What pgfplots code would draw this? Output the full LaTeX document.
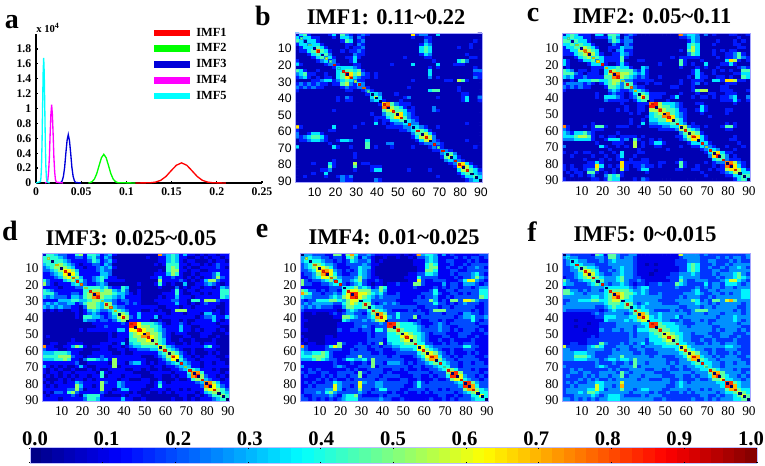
\documentclass[border=0pt]{standalone}
\usepackage{fontspec}
\setmainfont{Liberation Serif}
\newfontfamily\arial{Liberation Sans}
\usepackage{pgfplots}
\usepackage{pgfplotstable}
\pgfplotsset{compat=1.18}
\definecolor{imfcyan}{rgb}{0,1,1}
\definecolor{imfmag}{rgb}{1,0,1}
\definecolor{imfgreen}{rgb}{0,1,0}
\definecolor{imfred}{rgb}{1,0,0}
\definecolor{imfblue}{rgb}{0,0,0.85}

% connectivity matrices, 45x45 blocks (each block = 2 regions), digit d = value (d+0.5)/10
\pgfplotstableread[header=false]{
2 3 4 1 0  0 0 0 1 3  0 4 2 1 0  1 2 1 0 0  0 0 0 0 0  0 0 0 6 1  2 2 0 0 3  0 0 0 0 0  0 0 0 0 0
3 1 3 3 1  1 0 0 0 1  0 3 3 2 0  2 1 0 0 0  0 0 0 0 0  0 0 0 1 0  0 1 1 0 0  0 0 0 0 0  0 0 0 0 0
4 3 2 3 3  1 0 0 0 0  0 1 4 3 0  1 2 0 0 0  0 0 0 0 0  0 0 0 0 0  0 2 1 0 0  0 0 0 0 0  0 0 0 1 0
1 3 3 2 3  3 1 0 0 0  0 0 1 1 0  2 1 0 0 0  0 0 0 0 0  0 0 0 0 0  1 3 2 0 0  0 0 0 0 0  0 0 1 0 0
0 1 3 3 3  4 3 1 0 0  0 0 1 0 1  1 2 0 0 0  0 0 0 0 0  0 0 0 0 0  3 4 3 0 0  0 0 0 0 1  0 0 1 0 0
0 1 1 3 4  7 4 3 1 0  0 1 0 1 1  2 1 0 0 0  0 0 0 0 0  0 0 0 0 0  3 4 3 0 0  0 0 0 0 0  0 0 0 0 0
0 0 0 1 3  4 3 4 2 0  0 0 0 0 2  1 1 0 0 0  0 0 0 0 0  0 0 0 0 0  1 3 2 0 0  0 0 0 0 0  0 1 0 0 0
0 0 0 0 1  3 4 2 3 1  0 0 1 1 3  1 0 0 0 0  0 0 0 0 0  0 1 0 0 0  0 1 1 0 0  0 0 0 0 0  0 0 1 1 0
1 0 0 0 0  1 2 3 1 2  0 0 0 1 3  0 0 0 0 0  0 0 0 0 0  0 0 0 0 0  0 0 0 1 0  0 0 0 0 3  4 2 0 0 0
3 1 0 0 0  0 0 1 2 2  1 0 0 0 1  1 0 0 0 0  0 0 0 1 0  0 0 0 3 0  0 0 0 0 3  0 0 0 1 1  1 0 0 0 0
0 0 0 0 0  0 0 0 0 1  3 3 3 3 2  1 0 0 0 0  0 0 0 0 0  0 0 0 0 0  0 0 1 0 1  0 0 0 0 0  0 0 0 1 0
4 3 1 0 0  1 0 0 0 0  3 3 4 4 3  4 1 0 0 0  0 0 0 0 0  0 0 0 0 0  0 0 3 0 0  0 0 0 0 0  0 0 0 2 2
2 3 4 1 1  0 0 1 0 0  3 4 8 6 4  5 2 1 0 1  0 0 0 0 0  0 0 0 0 0  0 0 3 0 0  0 0 0 0 0  0 0 0 1 1
1 2 3 1 0  1 0 1 1 0  3 4 6 7 3  2 1 1 0 1  0 0 0 0 0  0 0 0 0 0  0 0 2 0 1  0 0 0 0 0  0 0 0 2 1
0 0 0 0 1  1 2 3 3 1  2 3 4 3 2  1 1 0 0 0  0 0 0 0 0  0 0 0 1 0  0 0 0 0 0  0 1 1 0 5  4 1 0 0 0
1 2 1 2 1  2 1 1 0 1  1 4 5 2 1  3 2 0 0 0  0 0 0 0 0  0 0 0 0 0  0 0 0 0 0  0 0 0 0 0  0 0 0 0 0
2 1 2 1 2  1 1 0 0 0  0 1 2 1 1  2 2 1 0 0  0 0 0 0 0  0 0 1 0 0  0 0 0 0 0  0 0 0 0 1  0 0 0 0 0
1 0 0 0 0  0 0 0 0 0  0 0 1 1 0  0 1 2 1 0  0 0 0 0 0  0 0 0 0 0  0 0 3 4 4  0 0 0 0 1  0 0 0 0 0
0 0 0 0 0  0 0 0 0 0  0 0 0 0 0  0 0 1 3 3  2 0 0 0 1  0 0 0 0 0  0 0 0 0 0  0 0 0 0 0  1 1 0 0 0
0 0 0 0 0  0 0 0 0 0  1 0 2 1 0  0 0 0 3 5  3 0 0 0 0  0 1 2 0 0  0 0 0 0 1  0 0 0 0 0  1 3 0 0 2
0 0 0 0 0  0 0 0 0 0  1 0 1 1 0  0 0 0 2 3  3 1 0 0 0  1 0 0 0 0  0 0 0 0 0  0 0 0 0 0  1 3 0 0 1
0 0 0 0 0  0 0 0 0 0  0 0 0 0 0  0 0 0 0 0  1 6 7 4 2  1 1 1 0 0  0 0 0 0 0  0 0 0 0 0  0 0 0 0 0
0 0 0 0 0  0 0 0 0 0  0 0 0 0 0  0 0 0 0 0  0 7 8 5 4  3 1 0 1 0  0 0 0 2 0  0 0 0 0 0  0 0 0 0 0
0 0 0 0 0  0 0 0 0 1  0 0 0 0 0  0 0 0 0 0  0 4 5 6 4  4 3 1 1 0  0 0 0 2 1  0 0 0 0 0  0 0 0 0 0
0 0 0 0 0  0 0 0 0 0  0 0 0 0 0  0 0 0 1 0  0 2 4 4 5  6 3 2 1 0  0 0 0 0 0  0 0 0 0 0  0 0 0 0 0
0 0 0 0 0  0 0 0 0 0  0 0 0 0 0  0 0 0 0 1  1 1 3 4 6  6 4 2 1 1  0 0 0 0 0  0 0 0 0 0  0 0 0 0 0
0 0 0 0 0  0 0 0 0 0  0 0 0 0 0  0 0 0 0 1  0 1 1 3 3  4 4 3 2 1  0 0 0 0 0  0 0 0 0 0  0 0 0 0 0
0 0 0 0 0  0 0 0 0 0  0 0 0 0 0  0 1 0 0 3  0 1 0 1 2  2 3 3 2 2  0 0 0 0 0  0 0 0 0 0  0 1 0 0 0
6 1 0 0 0  0 0 0 0 3  0 0 0 0 1  0 0 0 0 0  0 0 1 1 1  1 2 2 3 3  2 1 0 0 1  0 0 0 0 0  0 0 0 0 0
1 0 0 0 0  0 0 0 1 1  0 0 0 0 0  0 0 0 0 0  0 0 0 0 0  1 1 2 3 4  4 3 1 0 0  0 0 0 0 0  0 0 0 0 0
2 0 0 1 3  3 1 0 0 0  0 0 0 0 0  0 0 0 0 0  0 0 0 0 0  0 0 0 2 4  4 5 3 1 0  0 0 0 0 0  0 0 0 0 0
2 1 2 3 4  4 3 1 0 0  0 0 0 0 0  0 0 0 0 0  0 0 0 0 0  0 0 0 1 3  5 6 5 2 0  0 0 0 0 0  0 0 0 0 0
0 1 1 2 3  3 2 1 0 0  1 3 3 2 0  0 0 3 0 0  0 0 0 0 0  0 0 0 0 1  3 5 6 2 1  0 0 0 0 0  0 1 0 0 0
0 0 0 0 0  0 0 0 1 0  0 0 0 0 0  0 0 4 0 0  0 0 2 2 0  0 0 0 0 0  1 2 2 2 2  1 0 0 0 0  0 0 0 0 0
3 0 0 0 0  0 0 0 0 3  1 0 0 1 0  0 0 4 0 1  0 0 0 1 0  0 0 0 1 0  0 0 1 2 1  1 0 0 0 0  0 0 0 1 0
0 0 0 0 0  0 0 0 0 0  0 0 0 0 0  0 0 0 0 0  0 0 0 0 0  0 0 0 0 0  0 0 0 1 1  2 2 1 0 0  0 0 0 0 0
0 0 0 0 0  0 0 0 0 0  0 0 0 0 1  0 0 0 0 0  0 0 0 0 0  0 0 0 0 0  0 0 0 0 0  2 3 4 2 0  0 0 0 0 0
0 0 0 0 0  0 0 0 0 0  0 0 0 0 1  0 0 0 0 0  0 0 0 0 0  0 0 0 0 0  0 0 0 0 0  1 4 5 3 1  0 0 0 0 0
0 0 0 0 0  0 0 0 0 1  0 0 0 0 0  0 0 0 0 0  0 0 0 0 0  0 0 0 0 0  0 0 0 0 0  0 2 3 2 2  1 0 0 0 0
0 0 0 0 1  0 0 0 3 1  0 0 0 0 5  0 1 1 0 0  0 0 0 0 0  0 0 0 0 0  0 0 0 0 0  0 0 1 2 5  6 3 1 0 0
0 0 0 0 0  0 0 0 4 1  0 0 0 0 4  0 0 0 1 1  1 0 0 0 0  0 0 0 0 0  0 0 0 0 0  0 0 0 1 6  7 5 3 1 0
0 0 0 0 0  0 1 1 2 0  0 0 0 0 1  0 0 0 1 3  3 0 0 0 0  0 0 1 0 0  0 0 1 0 0  0 0 0 0 3  5 5 4 3 1
0 0 0 0 1  0 0 3 0 0  0 0 0 0 0  0 0 0 0 0  0 0 0 0 0  0 0 0 0 0  0 0 0 0 0  0 0 0 0 1  3 4 4 3 2
0 0 1 0 0  0 0 1 0 0  1 2 1 2 0  0 0 0 0 0  0 0 0 0 0  0 0 0 0 0  0 0 0 0 1  0 0 0 0 0  1 3 3 4 3
0 0 0 0 0  0 0 0 0 0  0 2 1 1 0  0 0 0 0 2  1 0 0 0 0  0 0 0 0 0  0 0 0 0 0  0 0 0 0 0  0 1 2 3 3
}\matb

\pgfplotstableread[header=false]{
3 3 4 3 1  1 1 0 3 3  0 4 4 3 0  1 2 1 0 0  0 0 0 0 0  0 0 0 7 2  3 3 2 0 2  0 1 0 0 0  1 1 0 0 1
3 3 4 3 3  1 1 0 1 1  1 3 4 2 0  2 1 0 0 0  0 0 0 0 0  0 0 0 1 1  2 3 2 0 0  0 0 0 0 0  0 0 1 0 0
4 4 3 4 3  3 1 0 0 0  0 2 4 3 1  2 2 0 0 0  0 0 0 0 0  0 0 0 0 0  1 3 2 0 0  0 0 1 0 0  0 1 0 1 0
3 3 4 3 4  3 3 1 0 0  0 0 2 1 0  2 1 0 0 0  0 0 0 0 0  0 0 0 0 0  3 4 3 0 0  0 1 0 0 0  0 1 1 0 0
1 3 3 4 4  5 4 3 1 0  0 1 1 1 3  2 2 0 0 0  0 0 0 0 0  0 0 0 0 0  3 5 3 0 0  0 0 0 0 0  0 0 1 1 0
1 1 3 3 5  7 5 4 3 0  0 1 0 2 3  1 1 0 0 0  0 0 0 0 0  0 0 0 1 0  4 5 3 0 0  0 1 0 1 0  1 1 0 0 0
1 1 1 3 4  5 7 5 3 1  0 0 1 1 3  2 1 0 0 0  0 0 0 0 0  0 0 0 0 0  2 4 3 0 0  0 1 0 0 1  1 2 4 1 0
0 0 0 1 3  4 5 3 4 3  1 1 1 1 4  1 0 0 0 0  0 0 0 0 0  0 1 0 1 1  1 1 1 0 0  0 0 1 0 1  1 2 4 2 1
3 1 0 0 1  3 3 4 2 3  1 1 1 1 4  0 0 0 1 1  0 0 0 0 0  0 0 0 4 1  0 0 0 1 0  0 0 0 0 3  6 5 1 0 1
3 1 0 0 0  0 1 3 3 3  1 0 0 1 3  1 0 0 0 0  0 0 0 1 0  0 0 0 4 1  0 1 0 0 3  0 0 0 1 1  3 1 0 0 0
0 1 0 0 0  0 0 1 1 1  3 3 3 4 3  3 1 0 0 3  2 0 0 0 0  0 0 0 1 0  0 0 1 0 1  0 0 1 0 0  0 0 1 2 1
4 3 2 0 1  1 0 1 1 0  3 4 5 4 4  4 4 2 1 3  1 0 0 0 0  0 0 0 0 0  0 1 3 0 0  0 1 0 1 0  1 0 0 4 4
4 4 4 2 1  0 1 1 1 0  3 5 7 7 5  5 4 3 2 3  1 0 0 0 0  0 0 0 0 0  0 1 3 1 0  0 1 0 0 0  0 1 1 3 3
3 2 3 1 1  2 1 1 1 1  4 4 7 8 5  4 3 2 1 2  1 0 0 1 0  0 0 0 0 0  1 0 3 1 1  0 0 1 1 0  1 0 0 4 3
0 0 1 0 3  3 3 4 4 3  3 4 5 5 3  2 2 1 1 1  1 1 0 0 0  0 0 0 1 0  0 1 1 1 0  0 3 3 1 6  6 5 1 1 0
1 2 2 2 2  1 2 1 0 1  3 4 5 4 2  4 4 1 0 0  1 0 1 1 0  0 0 0 1 0  0 1 2 0 1  0 0 0 0 1  1 1 0 0 0
2 1 2 1 2  1 1 0 0 0  1 4 4 3 2  4 4 2 1 1  0 0 0 0 0  0 1 1 0 0  0 1 0 0 0  0 0 0 1 1  0 0 0 0 0
1 0 0 0 0  0 0 0 0 0  0 2 3 2 1  1 2 3 3 2  1 0 0 0 0  0 0 0 0 0  0 1 4 5 5  0 0 0 1 1  1 0 0 0 1
0 0 0 0 0  0 0 0 1 0  0 1 2 1 1  0 1 3 4 4  3 1 1 1 1  0 0 0 1 0  0 0 1 0 0  1 1 0 0 1  1 1 0 0 0
0 0 0 0 0  0 0 0 1 0  3 3 3 2 1  0 1 2 4 6  4 1 1 1 0  0 1 3 0 0  0 1 0 1 1  0 1 0 1 1  2 3 0 0 2
0 0 0 0 0  0 0 0 0 0  2 1 1 1 1  1 0 1 3 4  4 1 0 0 0  1 0 0 0 0  0 0 0 0 0  0 0 0 1 1  1 3 1 0 1
0 0 0 0 0  0 0 0 0 0  0 0 0 0 1  0 0 0 1 1  1 7 8 5 3  3 3 2 1 0  0 0 1 1 0  0 0 0 0 0  0 1 0 0 0
0 0 0 0 0  0 0 0 0 0  0 0 0 0 0  1 0 0 1 1  0 8 8 5 4  4 3 2 1 0  0 0 0 3 1  0 0 0 0 0  0 0 0 0 0
0 0 0 0 0  0 0 0 0 1  0 0 0 1 0  1 0 0 1 1  0 5 5 7 5  4 4 3 1 1  0 0 1 3 1  0 0 0 0 1  1 0 0 0 0
0 0 0 0 0  0 0 0 0 0  0 0 0 0 0  0 1 0 1 0  0 3 4 5 6  7 4 3 2 1  0 0 0 1 0  0 0 0 0 1  0 0 0 0 0
0 0 0 0 0  0 0 0 0 0  0 0 0 0 0  0 0 0 0 0  1 3 4 4 7  7 6 3 2 1  0 0 0 0 0  1 0 0 0 0  0 0 0 0 0
0 0 0 0 0  0 0 0 0 0  0 0 0 0 0  0 1 0 0 1  0 3 3 4 4  6 6 4 3 1  0 0 0 0 0  0 0 0 0 0  0 0 0 0 0
0 0 0 0 0  0 0 1 0 0  0 0 0 0 0  0 1 0 0 3  0 2 2 3 3  3 4 4 3 2  0 1 0 0 0  0 0 0 0 1  0 1 0 0 0
7 1 0 0 0  1 0 1 4 4  1 0 0 1 1  1 0 0 1 0  0 1 1 1 2  2 3 3 6 5  2 1 1 0 1  0 0 0 1 4  4 1 0 0 0
2 1 0 0 0  0 0 1 1 1  0 0 0 0 0  0 0 0 0 0  0 0 0 1 1  1 1 2 5 5  4 3 2 0 0  0 0 0 0 1  1 0 0 0 0
3 2 1 3 3  4 2 1 0 0  0 0 0 1 0  0 0 0 0 0  0 0 0 0 0  0 0 0 2 4  5 5 4 1 0  0 0 0 0 0  0 0 0 0 0
3 3 3 4 5  5 4 1 0 1  0 1 1 0 1  1 1 1 0 1  0 0 0 0 0  0 0 1 1 3  5 7 6 3 1  0 0 0 0 0  0 1 0 0 0
2 2 2 3 3  3 3 1 0 0  1 3 3 3 1  2 0 4 1 0  0 1 0 1 0  0 0 0 1 2  4 6 6 3 1  0 0 0 0 0  1 1 0 0 0
0 0 0 0 0  0 0 0 1 0  0 0 1 1 1  0 0 5 0 1  0 1 3 3 1  0 0 0 0 0  1 3 3 3 3  1 0 0 0 0  0 0 1 0 0
2 0 0 0 0  0 0 0 0 3  1 0 0 1 0  1 0 5 0 1  0 0 1 1 0  0 0 0 1 0  0 1 1 3 2  2 1 0 0 1  0 0 0 1 0
0 0 0 0 0  0 0 0 0 0  0 1 0 0 0  0 0 0 1 0  0 0 0 0 0  1 0 0 0 0  0 0 0 1 2  3 3 2 0 0  0 1 0 0 0
1 0 0 1 0  1 1 0 0 1  0 0 1 0 3  0 0 0 1 1  0 0 0 0 0  0 0 0 0 0  0 0 0 0 1  3 5 6 3 1  1 0 0 0 0
0 0 1 0 0  0 0 1 0 0  1 0 0 1 3  0 0 1 0 0  0 0 0 0 0  0 0 0 0 0  0 0 0 0 0  2 6 8 4 2  0 1 0 0 0
0 0 0 0 0  1 0 0 0 1  0 1 0 1 1  0 1 0 0 1  1 0 0 0 0  0 0 0 1 0  0 0 0 0 0  0 3 4 4 2  1 1 1 0 0
0 0 0 0 0  0 1 1 3 1  0 0 0 0 6  1 1 1 1 1  1 0 0 1 1  0 0 1 4 1  0 0 0 0 1  0 1 2 2 7  7 5 2 1 0
1 0 1 0 0  1 1 1 6 3  0 1 0 1 6  1 0 1 1 2  1 1 0 1 0  0 0 0 4 1  0 0 1 0 0  0 1 0 1 7  8 6 3 1 0
1 0 1 1 0  1 2 2 5 1  0 0 1 0 5  1 0 0 1 3  3 0 0 0 0  0 0 1 1 0  0 1 1 0 0  1 0 1 1 5  6 6 5 3 1
0 1 0 1 1  0 4 4 1 0  1 0 1 0 1  0 0 0 0 0  1 0 0 0 0  0 0 0 0 0  0 0 0 1 0  0 0 0 1 2  3 5 5 3 3
0 0 1 0 1  0 1 2 0 0  2 4 3 4 1  0 0 0 0 0  0 0 0 0 0  0 0 0 0 0  0 0 0 0 1  0 0 0 0 1  1 3 3 4 4
1 0 0 0 0  0 0 1 1 0  1 4 3 3 0  0 0 1 0 2  1 0 0 0 0  0 0 0 0 0  0 0 0 0 0  0 0 0 0 0  0 1 3 4 3
}\matc

\pgfplotstableread[header=false]{
3 4 4 3 2  2 1 1 4 5  1 4 4 3 1  2 3 1 0 0  0 0 0 0 0  0 0 0 7 2  3 4 3 1 3  1 1 0 1 0  1 1 0 1 1
4 4 4 4 3  2 1 1 2 2  1 3 4 2 1  3 2 0 0 0  0 0 0 0 0  1 0 0 1 1  3 4 3 1 1  0 0 1 0 1  0 1 1 0 1
4 4 4 4 4  3 2 1 1 1  1 2 4 3 1  2 3 1 0 0  0 0 0 0 0  0 0 0 1 1  3 4 3 1 0  1 1 0 0 0  1 0 1 1 0
3 4 4 4 5  4 3 2 1 0  1 1 2 2 1  3 2 0 0 0  0 0 0 0 0  0 0 1 0 1  4 4 4 1 1  0 1 1 0 1  0 1 2 1 1
2 3 4 5 5  5 4 3 1 1  0 1 1 2 3  2 3 1 0 0  0 0 0 0 0  0 0 0 0 0  4 5 4 1 0  1 0 0 1 1  1 1 2 1 0
2 2 3 4 5  6 6 5 3 1  1 1 1 2 3  2 2 0 0 0  0 0 0 0 0  0 0 0 1 0  4 5 5 1 1  0 1 1 0 0  1 1 1 1 1
1 1 2 3 4  6 7 6 4 1  1 1 1 1 3  3 2 0 0 0  0 0 0 0 0  0 0 1 1 1  3 5 4 1 0  0 1 0 1 1  1 2 4 1 1
1 1 1 2 3  5 6 4 5 3  1 1 2 3 4  3 1 1 0 0  0 0 0 0 0  0 1 1 3 1  1 2 1 1 0  1 0 1 0 1  1 2 5 2 1
4 2 1 1 1  3 4 5 3 4  2 1 2 3 4  1 1 1 1 1  0 0 0 0 0  0 0 0 5 1  1 1 1 2 1  0 1 0 1 3  5 5 2 1 1
5 2 1 0 1  1 1 3 4 3  2 1 1 2 3  2 0 0 0 0  0 0 0 1 0  0 0 1 4 1  0 1 0 0 3  0 0 1 1 2  3 2 1 0 1
1 1 1 1 0  1 1 1 2 2  4 4 4 4 3  4 2 1 1 4  3 0 0 0 0  0 0 0 1 0  0 0 2 0 1  0 1 1 0 1  1 0 1 3 2
4 3 2 1 1  1 1 1 1 1  4 4 5 5 4  5 5 3 2 4  2 0 0 1 0  0 0 0 0 0  0 1 4 1 0  1 1 0 1 1  1 1 1 4 4
4 4 4 2 1  1 1 2 2 1  4 5 7 7 5  5 5 4 3 3  2 1 0 1 0  0 0 0 0 1  1 1 4 1 0  0 1 1 0 1  0 1 1 4 4
3 2 3 2 2  2 1 3 3 2  4 5 7 8 5  4 4 3 2 3  1 1 1 1 0  0 0 0 1 0  1 1 3 1 1  1 0 1 1 1  1 1 1 4 3
1 1 1 1 3  3 3 4 4 3  3 4 5 5 4  3 3 2 1 2  2 1 1 1 0  0 0 1 1 1  1 2 2 1 1  0 4 4 1 5  5 5 2 1 1
2 3 2 3 2  2 3 3 1 2  4 5 5 4 3  5 5 2 1 1  2 1 2 1 0  0 0 0 1 1  1 1 3 1 1  0 1 0 1 2  1 1 1 0 1
3 2 3 2 3  2 2 1 1 0  2 5 5 4 3  5 5 3 2 2  1 1 1 1 1  1 1 1 0 0  1 1 1 0 1  1 0 1 1 1  1 1 0 0 1
1 0 1 0 1  0 0 1 1 0  1 3 4 3 2  2 3 4 4 3  2 1 1 1 0  0 1 0 1 0  0 1 5 5 5  1 1 1 1 1  1 0 1 0 1
0 0 0 0 0  0 0 0 1 0  1 2 3 2 1  1 2 4 5 5  4 1 1 3 1  1 1 1 1 1  0 1 1 1 0  1 1 1 0 3  3 1 1 0 1
0 0 0 0 0  0 0 0 1 0  4 4 3 3 2  1 2 3 5 6  5 2 1 3 1  1 1 3 0 1  1 1 1 1 1  1 1 0 1 2  2 3 1 1 3
0 0 0 0 0  0 0 0 0 0  3 2 2 1 2  2 1 2 4 5  5 1 1 1 1  1 0 0 1 0  0 1 1 0 1  0 0 1 1 1  1 3 1 0 1
0 0 0 0 0  0 0 0 0 0  0 0 1 1 1  1 1 1 1 2  1 8 8 6 4  4 4 3 2 1  0 1 1 2 1  0 1 1 1 1  1 1 0 1 1
0 0 0 0 0  0 0 0 0 0  0 0 0 1 1  2 1 1 1 1  1 8 8 6 5  5 4 4 3 1  1 1 1 3 1  1 0 0 1 1  1 1 1 0 0
0 0 0 0 0  0 0 0 0 1  0 1 1 1 1  1 1 1 3 3  1 6 6 8 6  5 5 4 3 2  1 1 1 3 1  1 0 1 0 1  1 1 0 1 0
0 0 0 0 0  0 0 0 0 0  0 0 0 0 0  0 1 0 1 1  1 4 5 6 6  7 5 5 4 2  1 0 1 1 1  0 0 0 1 1  1 0 0 0 1
0 1 0 0 0  0 0 0 0 0  0 0 0 0 0  0 1 0 1 1  1 4 5 5 7  7 6 5 4 2  1 0 0 0 1  1 0 0 1 1  0 0 1 0 0
0 0 0 0 0  0 0 1 0 0  0 0 0 0 0  0 1 1 1 1  0 4 4 5 5  6 6 5 4 3  1 0 0 1 0  0 1 0 0 0  0 1 0 0 0
0 0 1 1 0  0 1 1 1 1  0 0 0 0 1  1 1 0 1 3  0 3 4 4 5  5 5 5 4 3  1 1 0 0 1  0 1 1 0 1  1 1 0 0 0
7 1 1 0 0  1 1 3 5 4  1 0 1 1 1  1 0 1 1 0  1 2 3 3 4  4 4 4 6 5  3 2 1 1 1  1 1 1 1 3  4 1 1 0 0
2 1 1 1 0  0 1 1 1 1  0 0 0 0 1  1 0 0 1 1  0 1 1 2 2  2 3 3 5 5  4 3 2 1 0  0 1 0 0 1  1 1 0 0 0
3 3 3 4 4  4 3 1 1 0  0 0 1 1 1  1 1 0 0 1  0 0 1 1 1  1 1 1 3 4  5 5 4 2 1  0 1 0 0 0  1 0 1 0 0
4 4 4 4 5  5 5 2 1 1  0 1 1 1 2  1 1 1 1 1  1 1 1 1 0  0 0 1 2 3  5 7 6 3 1  1 0 1 0 1  1 1 0 0 1
3 3 3 4 4  5 4 1 1 0  2 4 4 3 2  3 1 5 1 1  1 1 1 1 1  0 0 0 1 2  4 6 6 4 2  1 1 0 1 1  1 1 1 0 0
1 1 1 1 1  1 1 1 2 0  0 1 1 1 1  1 0 5 1 1  0 2 3 3 1  0 1 0 1 1  2 3 4 3 3  2 1 1 0 1  1 0 1 1 0
3 1 0 1 0  1 0 0 1 3  1 0 0 1 1  1 1 5 0 1  1 1 1 1 1  1 0 1 1 0  1 1 2 3 3  3 1 1 0 1  1 1 1 1 1
1 0 1 0 1  0 0 1 0 0  0 1 0 1 0  0 1 1 1 1  0 0 1 1 0  1 0 0 1 0  0 1 1 2 3  4 4 3 1 1  1 0 1 0 0
1 0 1 1 0  1 1 0 1 1  1 1 1 0 4  1 0 1 1 1  1 1 0 0 0  0 1 1 1 1  1 0 1 1 1  4 7 7 4 1  1 1 1 0 1
0 1 0 1 0  1 0 1 0 1  1 0 1 1 4  0 1 1 1 0  1 1 1 1 0  0 0 1 1 0  0 1 0 1 1  3 7 8 5 2  1 1 0 1 0
1 0 0 0 1  0 1 0 1 1  0 1 0 1 1  1 1 1 0 1  1 0 0 0 1  1 0 0 1 0  0 0 1 0 0  1 4 5 5 3  2 1 1 0 1
0 1 0 1 1  0 1 1 3 2  1 1 1 1 5  2 1 1 3 2  1 1 1 1 1  1 0 1 3 1  0 1 1 1 1  1 1 2 3 7  7 5 3 1 1
1 0 1 0 1  1 1 1 5 3  1 1 0 1 5  1 1 1 3 2  1 1 1 1 1  0 0 1 4 1  1 1 1 1 1  1 1 1 2 7  8 6 4 2 1
1 1 1 1 1  1 2 2 5 2  0 1 1 1 5  1 1 0 1 3  3 1 1 1 0  0 1 1 1 1  0 1 1 0 1  0 1 1 1 5  6 6 5 4 2
0 1 0 2 2  1 4 5 2 1  1 1 1 1 2  1 0 1 1 1  1 0 1 0 0  1 0 0 1 0  1 0 1 1 1  1 1 0 1 3  4 5 5 4 3
1 0 1 1 1  1 1 2 1 0  3 4 4 4 1  0 0 0 0 1  0 1 1 1 0  0 0 0 0 0  0 0 0 1 1  0 0 1 0 1  2 4 4 5 4
1 1 1 1 0  1 1 1 1 1  2 4 4 3 1  1 1 1 1 3  1 1 0 0 1  0 0 0 0 0  0 1 0 0 1  0 1 0 1 1  1 2 3 4 4
}\matd

\pgfplotstableread[header=false]{
2 3 3 2 2  2 1 1 5 5  1 5 7 4 2  2 3 2 1 1  1 1 1 1 0  1 0 1 7 3  4 4 3 1 3  1 2 1 1 1  1 1 1 2 2
3 3 4 3 3  2 2 1 2 2  1 4 5 3 1  3 2 1 0 0  1 0 0 1 0  0 1 0 2 2  3 4 3 1 1  1 1 2 1 2  1 2 2 1 2
3 4 4 4 4  3 2 2 1 2  1 2 4 3 2  2 3 1 0 1  0 0 0 0 0  0 0 1 1 1  3 4 3 1 1  2 2 1 1 1  2 1 2 1 1
2 3 4 5 5  4 3 3 2 1  1 2 2 2 2  3 2 1 1 0  0 0 0 0 0  0 0 1 1 1  4 5 4 1 1  1 2 1 1 2  1 2 2 2 2
2 3 4 5 6  6 5 4 2 1  1 1 2 2 4  3 3 1 0 0  0 0 0 0 0  0 0 0 1 1  4 5 5 1 1  2 1 1 2 1  2 2 3 2 1
2 2 3 4 6  7 7 6 3 2  1 2 1 2 4  3 2 1 0 0  0 0 0 0 0  0 0 0 1 1  5 5 4 1 1  1 2 2 1 1  2 2 2 2 2
1 2 2 3 5  7 8 6 4 2  1 1 2 2 4  3 2 1 0 0  0 0 0 0 0  0 1 1 2 2  4 4 3 1 1  1 2 1 2 2  2 3 4 2 1
1 1 2 3 4  6 6 5 5 3  2 2 2 3 5  3 2 1 1 0  0 0 0 0 0  1 1 1 4 2  2 2 2 1 1  1 1 2 1 2  2 3 5 3 2
5 2 1 2 2  3 4 5 3 4  2 2 3 4 5  2 1 1 2 1  0 0 0 0 0  0 1 1 6 2  1 1 2 2 2  1 1 1 2 4  6 6 3 2 1
5 2 2 1 1  2 2 3 4 4  2 1 2 3 4  2 1 0 1 1  0 1 1 2 1  1 1 5 5 2  1 1 1 1 3  1 2 2 1 3  3 3 2 1 2
1 1 1 1 1  1 1 2 2 2  4 4 4 5 3  4 3 1 2 5  4 1 1 1 1  1 1 2 1 1  1 1 2 1 2  1 2 2 1 2  2 1 2 3 3
5 4 2 2 1  2 1 2 2 1  4 5 6 6 5  5 5 3 3 5  3 1 1 1 1  1 1 1 1 1  1 2 4 1 1  2 2 1 2 2  2 2 2 4 4
7 5 4 2 2  1 2 2 3 2  4 6 8 8 6  6 5 4 3 4  2 1 1 2 1  1 1 1 1 2  2 2 4 2 1  1 2 2 1 2  1 2 2 4 4
4 3 3 2 2  2 2 3 4 3  5 6 8 8 6  5 4 3 2 3  2 2 2 2 1  1 1 1 2 1  2 2 3 1 1  2 1 2 2 2  2 2 2 5 4
2 1 2 2 4  4 4 5 5 4  3 5 6 6 5  4 4 2 2 2  2 2 2 1 1  1 1 2 2 2  2 5 3 1 2  1 5 5 2 6  6 5 3 2 2
2 3 2 3 3  3 3 3 2 2  4 5 6 5 4  5 5 2 1 2  3 2 3 2 1  1 1 1 2 2  2 2 4 2 2  1 2 1 2 3  2 2 2 1 2
3 2 3 2 3  2 2 2 1 1  3 5 5 4 4  5 5 4 3 3  2 2 2 2 2  2 2 2 1 1  2 2 2 1 2  2 1 2 2 2  2 2 1 1 2
2 1 1 1 1  1 1 1 1 0  1 3 4 3 2  2 4 5 5 4  3 2 1 1 1  1 2 1 2 1  1 2 5 5 5  2 2 2 2 2  2 1 2 1 2
1 0 0 1 0  0 0 1 2 1  2 3 3 2 2  1 3 5 7 7  5 2 2 4 2  2 2 2 2 2  1 2 2 2 1  2 2 2 1 3  3 2 2 1 2
1 0 0 0 0  0 0 0 1 1  5 5 4 3 2  2 3 4 7 7  6 3 2 4 2  2 2 5 1 2  2 2 2 2 2  2 2 1 2 3  3 4 2 2 3
1 1 0 0 0  0 0 0 0 0  4 3 2 2 2  3 2 3 5 6  6 2 2 2 2  2 1 1 2 1  1 2 2 1 2  1 1 2 2 2  2 4 2 1 2
1 0 0 0 0  0 0 0 0 1  1 1 1 2 2  2 2 2 2 3  2 8 8 5 4  4 4 3 2 1  1 1 2 3 2  1 2 2 2 2  2 2 1 2 2
1 0 0 0 0  0 0 0 0 1  1 1 1 2 2  3 2 1 2 2  2 8 8 5 4  4 4 4 3 2  1 2 2 3 2  2 1 1 2 2  2 2 2 1 1
1 1 0 0 0  0 0 0 0 2  1 1 2 2 1  2 2 1 4 4  2 5 5 7 5  4 4 4 3 2  2 2 2 3 2  2 1 2 1 2  2 2 1 2 1
0 0 0 0 0  0 0 0 0 1  1 1 1 1 1  1 2 1 2 2  2 4 4 5 5  6 5 4 4 3  2 1 2 2 2  1 1 1 2 2  2 1 1 1 2
1 0 0 0 0  0 1 1 0 1  1 1 1 1 1  1 2 1 2 2  2 4 4 4 6  7 6 5 4 3  2 1 1 1 2  2 1 1 2 2  1 1 2 1 1
0 1 0 0 0  0 1 1 1 1  1 1 1 1 1  1 2 2 2 2  1 4 4 4 5  6 6 5 4 3  2 1 1 2 1  1 2 1 1 1  1 2 1 1 1
1 0 1 1 0  0 1 1 1 5  2 1 1 1 2  1 2 1 2 5  1 3 4 4 4  5 5 5 4 4  2 2 1 1 2  1 2 2 1 2  2 2 1 1 1
7 2 1 1 1  1 2 4 6 5  1 1 1 2 2  2 1 2 2 1  2 2 3 3 4  4 4 4 6 6  4 3 2 2 2  2 2 2 2 4  4 2 2 1 1
3 2 1 1 1  1 2 2 2 2  1 1 2 1 2  2 1 1 2 2  1 1 2 2 3  3 3 4 6 6  5 4 3 2 1  1 2 1 1 2  2 2 1 1 1
4 3 3 4 4  5 4 2 1 1  1 1 2 2 2  2 2 1 1 2  1 1 1 2 2  2 2 2 4 5  6 6 5 3 2  1 2 1 1 1  2 1 2 1 1
4 4 4 5 5  5 4 2 1 1  1 2 2 2 5  2 2 2 2 2  2 1 2 2 1  1 1 2 3 4  6 7 7 4 2  2 1 2 1 2  2 2 1 1 2
3 3 3 4 5  4 3 2 2 1  2 4 4 3 3  4 2 5 2 2  2 2 2 2 2  1 1 1 2 3  5 7 7 5 3  2 2 1 2 2  2 2 2 1 1
1 1 1 1 1  1 1 1 2 1  1 1 2 1 1  2 1 5 2 2  1 3 3 3 2  1 2 1 2 2  3 4 5 4 4  3 2 2 1 2  2 1 2 2 1
3 1 1 1 1  1 1 1 2 3  2 1 1 1 2  2 2 5 1 2  2 2 2 2 2  2 1 2 2 1  2 2 3 4 4  4 2 2 1 2  2 2 2 2 2
1 1 2 1 2  1 1 1 1 1  1 2 1 2 1  1 2 2 2 2  1 1 2 2 1  2 1 1 2 1  1 2 2 3 4  5 5 4 2 2  2 1 2 1 1
2 1 2 2 1  2 2 1 1 2  2 2 2 1 5  2 1 2 2 2  1 2 1 1 1  1 2 2 2 2  2 1 2 2 2  5 7 8 5 2  2 2 2 1 2
1 2 1 1 1  2 1 2 1 2  2 1 2 2 5  1 2 2 2 1  2 2 2 2 1  1 1 2 2 1  1 2 1 2 2  4 8 8 6 3  2 2 1 2 1
1 1 1 1 2  1 2 1 2 1  1 2 1 2 2  2 2 2 1 2  2 1 1 1 2  2 1 1 2 1  1 1 2 1 1  2 5 6 6 4  3 2 2 1 2
1 2 1 2 1  1 2 2 4 3  2 2 2 2 6  3 2 2 3 3  2 2 2 2 2  2 1 2 4 2  1 2 2 2 2  2 2 3 4 8  8 5 3 2 2
1 1 2 1 2  2 2 2 6 3  2 2 1 2 6  2 2 2 3 3  2 2 2 2 2  1 1 2 4 2  2 2 2 2 2  2 2 2 3 8  8 7 4 2 2
1 2 2 2 2  2 3 3 6 3  1 2 2 2 5  2 2 1 2 4  4 2 2 2 1  1 2 2 2 2  1 2 2 1 2  1 2 2 2 5  7 7 5 4 3
1 2 2 2 3  2 4 5 3 2  2 2 2 2 3  2 1 2 2 2  2 1 2 1 1  2 1 1 2 1  2 1 2 2 2  2 2 1 2 3  4 5 6 4 4
2 1 1 2 2  2 2 3 2 1  3 4 4 5 2  1 1 1 1 2  1 2 2 2 1  1 1 1 1 1  1 1 1 2 2  1 1 2 1 2  2 4 4 6 4
2 2 1 2 1  2 1 2 1 2  3 4 4 4 2  2 2 2 2 3  2 2 1 1 2  1 1 1 1 1  1 2 1 1 2  1 2 1 2 2  2 3 4 4 4
}\mate

\pgfplotstableread[header=false]{
3 3 2 2 2  2 2 1 5 4  1 5 5 3 2  2 3 3 1 1  1 1 1 1 1  1 1 1 6 3  3 3 3 2 3  2 2 2 2 2  2 2 2 2 3
3 4 3 3 2  2 2 2 3 3  2 5 5 3 2  3 3 2 1 1  1 1 1 1 1  1 1 1 2 3  3 3 3 2 2  2 2 3 2 3  2 3 3 2 3
2 3 4 4 3  3 2 2 2 3  2 3 4 3 3  3 3 2 1 1  1 1 1 1 1  1 1 2 2 2  3 3 3 2 2  3 3 2 2 2  3 2 3 2 2
2 3 4 4 4  3 3 3 2 2  2 3 3 3 3  3 3 2 1 1  0 1 0 1 1  1 1 2 2 2  4 5 4 2 2  2 3 2 2 3  2 3 3 3 3
2 2 3 4 5  5 4 4 3 2  2 2 3 3 4  3 3 2 1 1  1 1 1 1 1  1 1 1 2 2  4 5 4 2 2  3 2 2 3 2  3 3 4 3 2
2 2 3 3 5  6 6 5 4 2  2 3 2 3 4  3 3 2 1 1  1 1 0 1 1  1 1 1 2 2  4 5 4 2 2  2 3 3 2 2  3 3 3 3 3
2 2 2 3 4  6 7 6 4 3  2 2 3 3 4  3 3 2 1 1  1 0 1 1 1  1 2 2 3 3  3 4 3 2 2  2 3 2 3 3  3 4 5 3 2
1 2 2 3 4  5 6 5 5 4  3 3 3 4 5  3 3 2 2 1  1 1 1 1 1  2 2 2 4 3  3 3 3 2 2  2 2 3 2 3  3 4 5 4 3
5 3 2 2 3  4 4 5 4 5  3 3 3 4 5  3 2 2 3 2  1 1 1 1 1  1 2 2 5 3  2 2 3 3 3  2 2 2 3 4  6 6 4 3 2
4 3 3 2 2  2 3 4 5 4  3 2 3 3 4  3 2 1 2 2  1 2 2 3 2  2 2 5 4 3  2 2 2 2 4  2 3 3 2 4  4 4 3 2 3
1 2 2 2 2  2 2 3 3 3  4 4 4 4 4  4 3 2 3 4  4 2 2 2 2  2 2 3 2 2  2 2 3 2 3  2 3 3 2 3  3 2 3 3 3
5 5 3 3 2  3 2 3 3 2  4 5 5 5 5  5 4 3 3 4  3 2 2 2 2  2 2 2 2 2  2 3 4 2 2  3 3 2 3 3  3 3 3 4 4
5 5 4 3 3  2 3 3 3 3  4 5 7 7 6  5 5 4 3 4  3 2 2 3 2  2 2 2 2 3  3 3 4 3 2  2 3 3 2 3  2 3 3 4 4
3 3 3 3 3  3 3 4 4 3  4 5 7 8 6  5 4 3 3 3  3 3 3 3 2  2 2 2 3 2  3 3 3 2 2  3 2 3 3 3  3 3 3 4 4
2 2 3 3 4  4 4 5 5 4  4 5 6 6 5  4 4 3 3 3  3 3 3 2 2  2 2 3 3 3  3 5 4 2 3  2 5 5 3 6  7 5 3 3 3
2 3 3 3 3  3 3 3 3 3  4 5 5 5 4  5 5 3 2 3  4 3 3 3 2  2 2 2 3 3  3 3 4 3 3  2 3 2 3 3  3 3 3 2 3
3 3 3 3 3  3 3 3 2 2  3 4 5 4 4  5 5 4 3 4  3 3 3 3 3  3 3 3 2 2  3 3 3 2 3  3 2 3 3 3  3 3 2 2 3
3 2 2 2 2  2 2 2 2 1  2 3 4 3 3  3 4 5 5 4  4 3 2 2 2  2 3 2 3 2  2 3 5 5 5  3 3 3 3 3  3 2 3 2 3
1 1 1 1 1  1 1 2 3 2  3 3 3 3 3  2 3 5 7 7  5 3 3 4 3  3 3 3 3 3  2 3 3 3 2  3 3 3 2 3  3 3 3 2 3
1 1 1 1 1  1 1 1 2 2  4 4 4 3 3  3 4 4 7 7  6 4 3 4 3  3 3 4 2 3  3 3 3 3 3  3 3 2 3 3  3 4 3 3 3
1 1 1 0 1  1 1 1 1 1  4 3 3 3 3  4 3 4 5 6  6 4 4 4 3  3 2 2 3 2  2 3 3 2 3  2 2 3 3 3  3 4 3 2 3
1 1 1 1 1  1 0 1 1 2  2 2 2 3 3  3 3 3 3 4  4 8 8 5 4  4 4 3 3 2  2 2 3 3 3  2 3 3 3 3  3 3 2 3 3
1 1 1 0 1  1 1 1 1 2  2 2 2 3 3  3 3 2 3 3  4 8 8 5 5  4 4 4 3 3  2 3 3 3 3  3 2 2 3 3  3 3 3 2 2
1 1 1 1 1  0 1 1 1 3  2 2 3 3 2  3 3 2 4 4  4 5 5 7 5  5 4 4 3 3  3 3 3 3 3  3 2 3 2 3  3 3 2 3 2
1 1 1 1 1  1 1 1 1 2  2 2 2 2 2  2 3 2 3 3  3 4 5 5 6  6 5 4 4 3  3 2 3 3 3  2 2 2 3 3  3 2 2 2 3
1 1 1 1 1  1 1 2 1 2  2 2 2 2 2  2 3 2 3 3  3 4 4 5 6  6 6 5 4 3  3 2 2 2 3  3 2 2 3 3  2 2 3 2 2
1 1 1 1 1  1 2 2 2 2  2 2 2 2 2  2 3 3 3 3  2 4 4 4 5  6 6 5 4 3  3 2 2 3 2  2 3 2 2 2  2 3 2 2 2
1 1 2 2 1  1 2 2 2 5  3 2 2 2 3  2 3 2 3 4  2 3 4 4 4  5 5 5 4 4  3 3 2 2 3  2 3 3 2 3  3 3 2 2 2
6 2 2 2 2  2 3 4 5 4  2 2 2 3 3  3 2 3 3 2  3 3 3 3 4  4 4 4 6 6  4 3 3 3 3  3 3 3 3 4  4 3 3 2 2
3 3 2 2 2  2 3 3 3 3  2 2 3 2 3  3 2 2 3 3  2 2 3 3 3  3 3 4 6 6  5 4 3 3 2  2 3 2 2 3  3 3 2 2 2
3 3 3 4 4  4 3 3 2 2  2 2 3 3 3  3 3 2 2 3  2 2 2 3 3  3 3 3 4 5  6 6 5 3 3  2 3 2 2 2  3 2 3 2 2
3 3 3 5 5  5 4 3 2 2  2 3 3 3 5  3 3 3 3 3  3 2 3 3 2  2 2 3 3 4  6 7 7 4 3  3 2 3 2 3  3 3 2 2 3
3 3 3 4 4  4 3 3 3 2  3 4 4 3 4  4 3 5 3 3  3 3 3 3 3  2 2 2 3 3  5 7 7 5 4  3 3 2 3 3  3 3 3 2 2
2 2 2 2 2  2 2 2 3 2  2 2 3 2 2  3 2 5 3 3  2 3 3 3 3  2 3 2 3 3  3 4 5 4 4  4 3 3 2 3  3 2 3 3 2
3 2 2 2 2  2 2 2 3 4  3 2 2 2 3  3 3 5 2 3  3 3 3 3 3  3 2 3 3 2  3 3 4 4 5  4 3 3 2 3  3 3 3 3 3
2 2 3 2 3  2 2 2 2 2  2 3 2 3 2  2 3 3 3 3  2 2 3 3 2  3 2 2 3 2  2 3 3 4 4  5 5 4 3 3  3 2 3 2 2
2 2 3 3 2  3 3 2 2 3  3 3 3 2 5  3 2 3 3 3  3 3 2 2 2  2 3 3 3 3  3 2 3 3 3  5 7 7 5 3  3 3 3 2 3
2 3 2 2 2  3 2 3 2 3  3 2 3 3 5  2 3 3 3 2  3 3 3 3 2  2 2 3 3 2  2 3 2 3 3  4 7 8 5 4  3 3 2 3 2
2 2 2 2 3  2 3 2 3 2  2 3 2 3 3  3 3 3 2 3  3 2 2 2 3  3 2 2 3 2  2 2 3 2 2  3 5 5 6 4  4 3 3 2 3
2 3 2 3 2  2 3 3 4 4  3 3 3 3 6  3 3 3 3 3  3 3 3 3 3  3 2 3 4 3  2 3 3 3 3  3 3 4 4 8  8 5 4 3 3
2 2 3 2 3  3 3 3 6 4  3 3 2 3 7  3 3 3 3 3  3 3 3 3 3  2 2 3 4 3  3 3 3 3 3  3 3 3 4 8  8 7 4 3 3
2 3 3 3 3  3 4 4 6 4  2 3 3 3 5  3 3 2 3 4  4 3 3 3 2  2 3 3 3 3  2 3 3 2 3  2 3 3 3 5  7 7 5 4 4
2 3 3 3 4  3 5 5 4 3  3 3 3 3 3  3 2 3 3 3  3 2 3 2 2  3 2 2 3 2  3 2 3 3 3  3 3 2 3 4  4 5 6 5 4
2 2 2 3 3  3 3 4 3 2  3 4 4 4 3  2 2 2 2 3  2 3 3 3 2  2 2 2 2 2  2 2 2 3 3  2 2 3 2 3  3 4 5 6 5
3 3 2 3 2  3 2 3 2 3  3 4 4 4 3  3 3 3 3 3  3 3 2 2 3  2 2 2 2 2  2 3 2 2 3  2 3 2 3 3  3 4 4 5 5
}\matf

% diagonal of each matrix, one row per block, columns are panels b c d e f (-1 = darkest)
\pgfplotstableread[header=false]{
1 1 1 -1 -1
4 4 5 5 3
0 0 -1 -1 -1
4 5 6 7 8
0 0 -1 -1 -1
8 7 8 8 8
0 -1 -1 -1 -1
5 6 7 7 8
4 6 8 8 -1
8 8 7 8 8
3 6 5 -1 -1
8 8 8 8 8
-1 -1 -1 -1 -1
8 8 8 8 8
5 5 5 -1 -1
8 8 8 8 8
7 7 7 -1 -1
4 6 6 8 8
-1 -1 -1 -1 -1
-1 8 8 8 8
-1 -1 -1 -1 -1
8 8 8 8 8
-1 -1 -1 -1 -1
8 8 8 8 8
-1 -1 -1 -1 -1
8 8 8 8 8
-1 -1 -1 -1 -1
8 8 8 8 8
-1 -1 -1 -1 -1
8 8 8 8 8
-1 -1 -1 -1 -1
8 8 8 8 8
-1 -1 -1 -1 -1
8 8 8 8 8
4 5 5 4 4
8 8 8 8 8
-1 -1 -1 -1 -1
-1 -1 -1 -1 -1
8 8 8 8 8
8 -1 -1 -1 -1
-1 -1 -1 -1 -1
8 8 8 8 8
-1 -1 -1 -1 -1
-1 -1 -1 -1 -1
-1 -1 -1 -1 -1
}\diagtab

\pgfplotsset{
  panel/.style={
    scale only axis, axis on top, colormap/jet,
    xmin=0.5, xmax=90.5, ymin=0.5, ymax=90.5, y dir=reverse,
    point meta min=-0.5, point meta max=9.5,
    xtick={10,20,...,90}, ytick={10,20,...,90},
    xticklabels={10,20,30,40,50,60,70,80,90},
    yticklabels={10,20,30,40,50,60,70,80,90},
    major tick length=0pt,
    axis line style={color=blue!35!white, line width=0.5pt},
    xticklabel style={yshift=-1pt},
    yticklabel style={xshift=1pt},
  },
}

% long list (x,y) [value] from a 45x45 table; #2 = contrast exponent of the panel
\newcommand{\longform}[2]{%
  \gdef\meshpts{}%
  \foreach \ri in {0,...,44}{%
    \pgfmathsetmacro\yy{1.5+\ri*2}%
    \foreach \ci in {0,...,44}{%
      \pgfplotstablegetelem{\ri}{[index]\ci}\of{#1}%
      \ifnum\pgfplotsretval=0 \def\vv{0}\else\pgfmathsetmacro\vv{9*(\pgfplotsretval/9)^#2}\fi
      \pgfmathsetmacro\xx{1.5+\ci*2}%
      \xdef\meshpts{\meshpts (\xx,\yy) [\vv]}%
    }%
  }%
}

% #1 x, #2 y, #3 width, #4 height (pt), #5 label font, #6 matrix, #7 diagonal column, #8 contrast
\newcommand{\panel}[8]{%
  \longform{#6}{#8}%
  \begin{axis}[panel, at={(#1pt,#2pt)}, anchor=south west, width=#3pt, height=#4pt,
      tick label style={font=#5}]
    \edef\doplot{\noexpand\addplot[matrix plot*, mesh/cols=45, point meta=explicit]
      coordinates {\meshpts};}%
    \doplot
    \addplot[scatter, only marks, mark=square*, mark size=0.8pt,
      mark options={yscale=0.79, line width=0.1pt}, point meta=explicit]
      table[x expr=1.5+\coordindex*2, y expr=1.5+\coordindex*2, meta index=#7] {\diagtab};
  \end{axis}%
}

\newcommand{\ttl}{\bfseries\fontsize{16.8}{18}\selectfont}
\newcommand{\lett}{\bfseries\fontsize{21}{23}\selectfont}
\newcommand{\serifticks}{\fontsize{10}{11}\selectfont}
\newcommand{\sansticks}{\arial\fontsize{9.2}{10}\selectfont}
\newcommand{\cbl}{\bfseries\fontsize{15.5}{17}\selectfont}

\begin{document}
\begin{tikzpicture}
\path[use as bounding box] (0,0) rectangle (573.75pt,349.5pt);

% panel a, spectra of the five modes
\begin{axis}[
  at={(27pt,212.25pt)}, anchor=south west, scale only axis,
  width=169.5pt, height=111.75pt,
  xmin=0, xmax=0.25, ymin=0, ymax=2,
  axis x line*=bottom, axis y line*=left,
  axis line style={line width=1.5pt, black},
  clip=false,
  xtick={0,0.05,0.1,0.15,0.2,0.25},
  xticklabels={0,0.05,0.1,0.15,0.2,0.25},
  ytick={0,0.2,0.4,0.6,0.8,1,1.2,1.4,1.6,1.8},
  yticklabels={0,0.2,0.4,0.6,0.8,1,1.2,1.4,1.6,1.8},
  tick style={black, line width=1pt},
  major tick length=1.5pt,
  tick label style={font=\bfseries\fontsize{8.8}{10}\selectfont},
  legend style={at={(83pt,120.5pt)}, anchor=north west, draw=none, fill=none,
    font=\bfseries\fontsize{9.3}{11}\selectfont, row sep=0.2pt},
  legend cell align=left,
  legend image code/.code={\draw[#1, line width=5pt] (0pt,0pt) -- (27pt,0pt);},
]
\addplot[imfred, line width=1pt] coordinates {
  (0.11,0) (0.1265,0.003) (0.1323,0.012) (0.138,0.036) (0.1438,0.088) (0.1495,0.165) (0.1553,0.238) (0.161,0.27)
  (0.1668,0.238) (0.1725,0.165) (0.1783,0.088) (0.184,0.036) (0.1898,0.012) (0.1955,0.003) (0.21,0)};
\addlegendentry{IMF1}
\addplot[imfgreen, line width=1pt] coordinates {
  (0.058,0) (0.0594,0.004) (0.062,0.017) (0.0646,0.052) (0.0672,0.125) (0.0698,0.235) (0.0724,0.339) (0.075,0.385)
  (0.0776,0.339) (0.0802,0.235) (0.0828,0.125) (0.0854,0.052) (0.088,0.017) (0.0906,0.004) (0.11,0)};
\addlegendentry{IMF2}
\addplot[imfblue, line width=1pt] coordinates {
  (0.025,0) (0.0276,0.007) (0.029,0.029) (0.0303,0.088) (0.0317,0.211) (0.033,0.397) (0.0344,0.572) (0.0357,0.65)
  (0.037,0.572) (0.0384,0.397) (0.0397,0.211) (0.0411,0.088) (0.0425,0.029) (0.0438,0.007) (0.05,0)};
\addlegendentry{IMF3}
\addplot[imfmag, line width=1pt] coordinates {
  (0.01,0) (0.0122,0.012) (0.0131,0.046) (0.0139,0.142) (0.0148,0.341) (0.0156,0.64) (0.0165,0.924) (0.0173,1.05)
  (0.0181,0.924) (0.019,0.64) (0.0198,0.341) (0.0207,0.142) (0.0215,0.046) (0.0224,0.012) (0.03,0)};
\addlegendentry{IMF4}
\addplot[imfcyan, line width=1pt] coordinates {
  (0,0) (0.0049,0.018) (0.0055,0.074) (0.0061,0.227) (0.0067,0.546) (0.0073,1.025) (0.0079,1.478) (0.0085,1.68)
  (0.0091,1.478) (0.0097,1.025) (0.0103,0.546) (0.0109,0.227) (0.0115,0.074) (0.0121,0.018) (0.015,0)};
\addlegendentry{IMF5}
\end{axis}
\node[anchor=west, inner sep=0pt, font=\bfseries\fontsize{8}{9}\selectfont] at (27pt,328.5pt) {x 10\textsuperscript{4}};

\panel{221.25}{213}{140.25}{111.75}{\sansticks}{\matb}{0}{1}
\panel{421.5}{213.75}{141}{111}{\serifticks}{\matc}{1}{1}
\panel{31.5}{48.75}{140.25}{111}{\serifticks}{\matd}{2}{1.1}
\panel{225}{48.75}{141}{111}{\serifticks}{\mate}{3}{1.2}
\panel{421.5}{48.75}{141}{111}{\serifticks}{\matf}{4}{1.3}

% colour scale
\begin{axis}[
  at={(22.5pt,2.25pt)}, anchor=south west, scale only axis, width=1pt, height=1pt,
  hide axis, colormap/jet, point meta min=0, point meta max=1,
  colorbar horizontal, colorbar sampled,
  colorbar style={
    samples=65, at={(0,0)}, anchor=south west, width=545.25pt, height=11.5pt,
    xtick={0,0.1,0.2,0.3,0.4,0.5,0.6,0.7,0.8,0.9,1},
    xticklabels={},
    xtick pos=both, tick align=inside,
    major tick length=1pt, tick style={black, line width=0.8pt},
    axis line style={color=blue!25!white, line width=0.4pt},
  },
]
\addplot[draw=none] coordinates {(0,0)};
\end{axis}
\foreach \lab [count=\i from 0] in {0.0,0.1,0.2,0.3,0.4,0.5,0.6,0.7,0.8,0.9,1.0}
  \node[font=\cbl, inner sep=0pt] at ({(35+71.6*\i)*0.75pt},20.5pt) {\lab};

% titles and panel letters, centres
\node[font=\ttl] at (289.5pt,336.75pt) {IMF1: 0.11\textasciitilde0.22};
\node[font=\ttl] at (489pt,337.5pt) {IMF2: 0.05\textasciitilde0.11};
\node[font=\ttl] at (98.25pt,171pt) {IMF3: 0.025\textasciitilde0.05};
\node[font=\ttl] at (295.5pt,171.75pt) {IMF4: 0.01\textasciitilde0.025};
\node[font=\ttl] at (483.75pt,174pt) {IMF5: 0\textasciitilde0.015};
\node[font=\lett, inner sep=0pt] at (9pt,333pt) {a};
\node[font=\lett, inner sep=0pt] at (197.25pt,337.5pt) {b};
\node[font=\lett, inner sep=0pt] at (399.75pt,338.5pt) {c};
\node[font=\lett, inner sep=0pt] at (7.5pt,176.25pt) {d};
\node[font=\lett, inner sep=0pt] at (196.5pt,176pt) {e};
\node[font=\lett, inner sep=0pt] at (399pt,176pt) {f};
\end{tikzpicture}
\end{document}
